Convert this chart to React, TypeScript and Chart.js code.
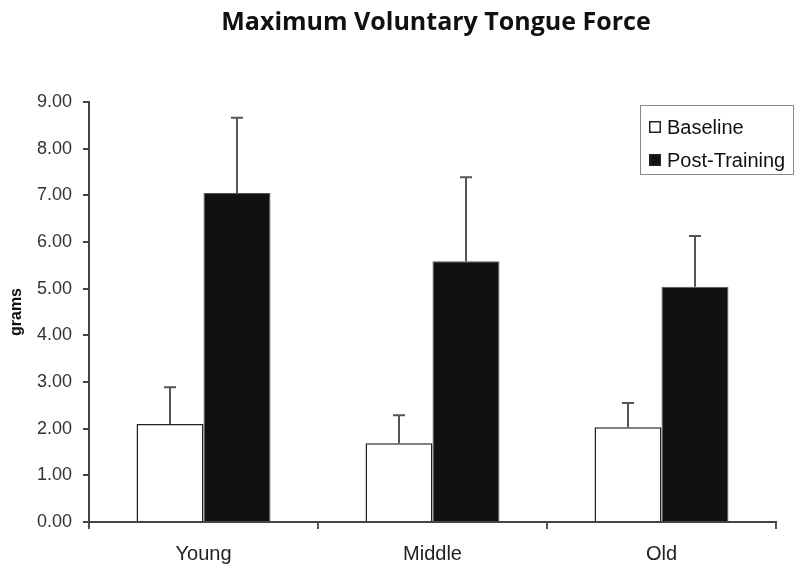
import React, { useEffect, useRef } from "react";
import { Chart, registerables } from "chart.js";

Chart.register(...registerables);

const categories = ["Young", "Middle", "Old"];
const seriesNames = ["Baseline", "Post-Training"];
const baseline = [2.1, 1.69, 2.03];
const baselineErr = [0.79, 0.6, 0.52];
const postTraining = [7.05, 5.59, 5.04];
const postTrainingErr = [1.61, 1.8, 1.09];
const yTicks = [0, 1, 2, 3, 4, 5, 6, 7, 8, 9];
const titleText = "Maximum Voluntary Tongue Force";
const yAxisTitle = "grams";

const errors = [baselineErr, postTrainingErr];

const errorBarPlugin = {
  id: "errorBars",
  afterDatasetsDraw(chart: any) {
    const ctx = chart.ctx;
    const yScale = chart.scales.y;
    ctx.save();
    ctx.strokeStyle = "#555";
    ctx.lineWidth = 2;
    chart.data.datasets.forEach((ds: any, di: number) => {
      const meta = chart.getDatasetMeta(di);
      meta.data.forEach((bar: any, i: number) => {
        const v = ds.data[i];
        const e = errors[di][i];
        const x = Math.round(bar.x);
        const y0 = yScale.getPixelForValue(v);
        const y1 = yScale.getPixelForValue(v + e);
        ctx.beginPath();
        ctx.moveTo(x, y0);
        ctx.lineTo(x, y1);
        ctx.moveTo(x - 6, y1);
        ctx.lineTo(x + 6, y1);
        ctx.stroke();
      });
    });
    ctx.restore();
  },
};

const titlePlugin = {
  id: "customTitle",
  afterDraw(chart: any) {
    const ctx = chart.ctx;
    ctx.save();
    ctx.fillStyle = "#111";
    ctx.font = "bold 25px 'Open Sans'";
    ctx.textAlign = "center";
    ctx.textBaseline = "middle";
    ctx.fillText(titleText, 436, 23);
    ctx.restore();
  },
};

const legendPlugin = {
  id: "boxLegend",
  afterDraw(chart: any) {
    const ctx = chart.ctx;
    ctx.save();
    ctx.strokeStyle = "#888";
    ctx.lineWidth = 1;
    ctx.fillStyle = "#fff";
    ctx.fillRect(640.5, 105.5, 153, 69);
    ctx.strokeRect(640.5, 105.5, 153, 69);
    const rows = [127, 160];
    chart.data.datasets.forEach((ds: any, i: number) => {
      const y = rows[i];
      ctx.fillStyle = ds.backgroundColor;
      ctx.fillRect(649, y - 6, 12, 12);
      ctx.strokeStyle = "#222";
      ctx.lineWidth = 1.5;
      ctx.strokeRect(649.75, y - 5.25, 10.5, 10.5);
      ctx.fillStyle = "#111";
      ctx.font = "20px 'Liberation Sans'";
      ctx.textAlign = "left";
      ctx.textBaseline = "middle";
      ctx.fillText(ds.label, 667, y + 1);
    });
    ctx.restore();
  },
};

export default function App() {
  const ref = useRef<HTMLCanvasElement>(null);
  useEffect(() => {
    document.body.style.margin = "0";
    const chart = new Chart(ref.current!, {
      type: "bar",
      data: {
        labels: categories,
        datasets: [
          {
            label: seriesNames[0],
            data: baseline,
            backgroundColor: "#ffffff",
            borderColor: "#222",
            borderWidth: 1.5,
            borderSkipped: "bottom",
          },
          {
            label: seriesNames[1],
            data: postTraining,
            backgroundColor: "#111111",
            borderColor: "#555",
            borderWidth: 1,
            borderSkipped: "bottom",
          },
        ],
      },
      options: {
        responsive: false,
        animation: false,
        layout: { padding: { top: 102, right: 24, left: 0, bottom: 0 } },
        plugins: {
          legend: { display: false },
          title: { display: false },
          tooltip: { enabled: false },
        },
        datasets: { bar: { categoryPercentage: 0.585, barPercentage: 1 } },
        scales: {
          x: {
            grid: {
              offset: true,
              drawOnChartArea: false,
              drawTicks: true,
              tickLength: 7,
              color: "#555",
              lineWidth: 2,
            },
            border: { display: true, color: "#444", width: 2 },
            ticks: {
              color: "#222",
              font: { family: "'Liberation Sans'", size: 20 },
              padding: 13,
              maxRotation: 0,
            },
            afterFit(scale: any) {
              scale.height = 52;
            },
          },
          y: {
            min: 0,
            max: 9,
            afterBuildTicks(scale: any) {
              scale.ticks = yTicks.map((v) => ({ value: v }));
            },
            grid: {
              drawOnChartArea: false,
              drawTicks: true,
              tickLength: 6,
              color: "#444",
              lineWidth: 2,
            },
            border: { display: true, color: "#444", width: 2 },
            ticks: {
              color: "#333",
              font: { family: "'Liberation Sans'", size: 18 },
              padding: 11,
              callback: (v: any) => Number(v).toFixed(2),
            },
            title: {
              display: true,
              text: yAxisTitle,
              color: "#111",
              font: { family: "'Liberation Sans'", size: 16, weight: "bold" },
              padding: { top: 7, bottom: 0 },
            },
            afterFit(scale: any) {
              scale.width = 89;
            },
          },
        },
      },
      plugins: [errorBarPlugin, titlePlugin, legendPlugin],
    });
    return () => chart.destroy();
  }, []);
  return <canvas ref={ref} width={800} height={574} style={{ display: "block" }} />;
}
